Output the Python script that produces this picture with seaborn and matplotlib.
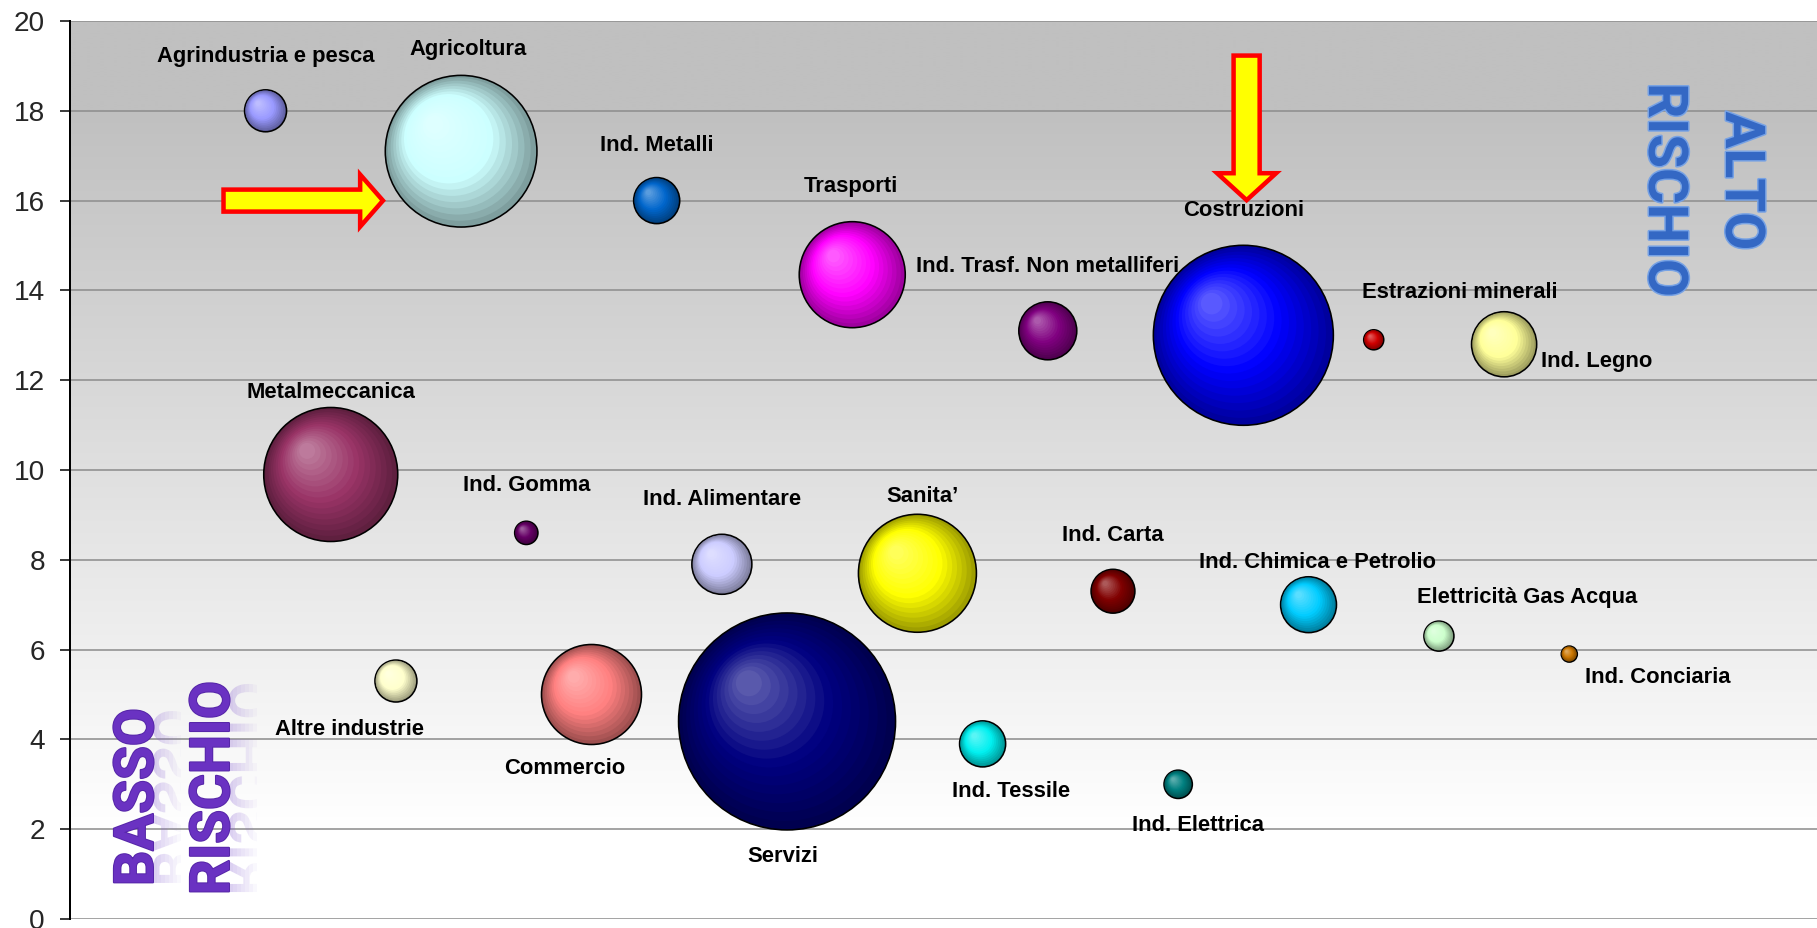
import numpy as np
import pandas as pd
import matplotlib
matplotlib.use("Agg")
import matplotlib.pyplot as plt
import seaborn as sns
import matplotlib.colors as mcolors
import matplotlib.patheffects as pe
import matplotlib.transforms as mtransforms
from matplotlib.path import Path
from matplotlib.markers import MarkerStyle
from matplotlib.patches import FancyArrow, PathPatch, Rectangle
from matplotlib.textpath import TextPath
from matplotlib.font_manager import FontProperties

# --- dati per settore -------------------------------------------------------
settori = [
    "Agrindustria e pesca", "Metalmeccanica", "Altre industrie",
    "Agricoltura", "Ind. Gomma", "Commercio",
    "Ind. Metalli", "Ind. Alimentare", "Servizi",
    "Trasporti", "Sanita\u2019", "Ind. Tessile",
    "Ind. Trasf. Non metalliferi", "Ind. Carta", "Ind. Elettrica",
    "Costruzioni", "Ind. Chimica e Petrolio", "Estrazioni minerali",
    "Elettricit\u00e0 Gas Acqua", "Ind. Legno", "Ind. Conciaria",
]
posizione = [4, 5, 6, 7, 8, 9, 10, 11, 12, 13, 14, 15, 16, 17, 18, 19, 20, 21, 22, 23, 24]
indice_rischio = [18.0, 9.9, 5.3, 17.1, 8.6, 5.0, 16.0, 7.9, 4.4, 14.35, 7.7, 3.9,
                  13.1, 7.3, 3.0, 13.0, 7.0, 12.9, 6.3, 12.8, 5.9]
dimensione = [4.4, 44.9, 4.4, 57.5, 1.35, 25.0, 5.3, 9.0, 117.7, 28.1, 34.8, 5.3,
              8.4, 4.8, 2.0, 81.0, 7.8, 1.0, 2.25, 10.6, 0.64]
y_ticks = [0, 2, 4, 6, 8, 10, 12, 14, 16, 18, 20]

# --- stile -------------------------------------------------------------------
colori = ["#9999FF", "#993366", "#FFFFCC", "#CCFFFF", "#660066", "#FF8080",
          "#0066CC", "#CCCCFF", "#000080", "#FF00FF", "#FFFF00", "#00F0F0",
          "#800080", "#800000", "#008080", "#0000FF", "#00CCFF", "#D00000",
          "#CCFFCC", "#FFFF99", "#CC7700"]

# offset (pt) dell'etichetta rispetto al centro della bolla, allineamento
etichette = {
    "Agrindustria e pesca": (0, 54, "center"),
    "Metalmeccanica": (0, 82, "center"),
    "Altre industrie": (-46, -48, "center"),
    "Agricoltura": (7, 102, "center"),
    "Ind. Gomma": (0, 47, "center"),
    "Commercio": (-27, -74, "center"),
    "Ind. Metalli": (0, 55, "center"),
    "Ind. Alimentare": (0, 65, "center"),
    "Servizi": (-4, -135, "center"),
    "Trasporti": (-1, 88, "center"),
    "Sanita\u2019": (5, 77, "center"),
    "Ind. Tessile": (28, -48, "center"),
    "Ind. Trasf. Non metalliferi": (-132, 64, "left"),
    "Ind. Carta": (0, 56, "center"),
    "Ind. Elettrica": (20, -41, "center"),
    "Costruzioni": (0, 125, "center"),
    "Ind. Chimica e Petrolio": (9, 42, "center"),
    "Estrazioni minerali": (86, 47, "center"),
    "Elettricit\u00e0 Gas Acqua": (88, 39, "center"),
    "Ind. Legno": (37, -17, "left"),
    "Ind. Conciaria": (16, -23, "left"),
}

W, H, DPI = 1817, 928, 72

sns.set_theme(style="white")
plt.rcParams["font.family"] = ["Liberation Sans", "DejaVu Sans"]

fig = plt.figure(figsize=(W / DPI, H / DPI), dpi=DPI)
fig.patch.set_facecolor("white")
ax = fig.add_axes([70 / W, 9 / H, (W - 70) / W, 898 / H])

# sfondo sfumato: grigio in alto, bianco in basso
yy = np.linspace(20, 0, 400)
g = np.clip(192 + 63 * (18 - yy) / 16, 192, 255) / 255.0
bg = np.repeat(np.stack([g, g, g], axis=1)[:, None, :], 2, axis=1)
ax.imshow(bg, extent=(0, 1, 0, 1), transform=ax.transAxes, aspect="auto",
          interpolation="bilinear", zorder=0.2)

df = pd.DataFrame({
    "settore": settori,
    "posizione": posizione,
    "rischio": indice_rischio,
    "dimensione": dimensione,
})
base_rgb = {s: np.array(mcolors.to_rgb(c)) for s, c in zip(settori, colori)}


def sphere_marker(f):
    """Circle of relative radius f, shifted toward the upper-left highlight."""
    off = 0.4 * (1 - f)
    circ = Path.circle((-off, off), f)
    if f >= 0.999:
        return MarkerStyle(circ)
    verts = np.vstack([[[1.0, 1.0], [-1.0, -1.0]], circ.vertices])
    codes = np.concatenate([[Path.MOVETO, Path.MOVETO], circ.codes])
    return MarkerStyle(Path(verts, codes))


def layer_color(rgb, f):
    dark = rgb * 0.62
    light = rgb + (1 - rgb) * 0.35
    if f >= 0.6:
        t = (1 - f) / 0.4
        c = dark + (rgb - dark) * t
    else:
        t = (0.6 - f) / 0.48
        c = rgb + (light - rgb) * t
    return tuple(np.clip(c, 0, 1))


# bolle ombreggiate: strati concentrici dal bordo al riflesso
strati = np.linspace(1.0, 0.12, 16)
for i, f in enumerate(strati):
    pal = {s: layer_color(base_rgb[s], f) for s in settori}
    sns.scatterplot(
        data=df, x="posizione", y="rischio", hue="settore", palette=pal,
        size="dimensione", sizes=(0, 60000), size_norm=(0, 150),
        marker=sphere_marker(f),
        edgecolor="black" if i == 0 else "none",
        linewidth=1.6 if i == 0 else 0,
        legend=False, ax=ax, zorder=3 + i * 0.01,
    )

for row in df.itertuples():
    dx, dy, ha = etichette[row.settore]
    ax.annotate(row.settore, xy=(row.posizione, row.rischio), xytext=(dx, dy),
                textcoords="offset points", ha=ha, va="center",
                fontsize=22, fontweight="bold", color="black", zorder=10)

# frecce evidenziatrici
ax.add_patch(FancyArrow(3.355, 16.0, 2.446, 0, width=0.49, head_width=1.16,
                        head_length=0.35, length_includes_head=True,
                        facecolor="#FFFF00", edgecolor="#FF0000", linewidth=4.5,
                        zorder=11))
ax.add_patch(FancyArrow(19.05, 19.23, 0, -3.22, width=0.40, head_width=0.905,
                        head_length=0.6, length_includes_head=True,
                        facecolor="#FFFF00", edgecolor="#FF0000", linewidth=4.5,
                        zorder=11))

ax.set_xlim(1.0, 27.8)
ax.set_ylim(0, 20)
ax.set_xlabel("")
ax.set_ylabel("")
ax.set_xticks([])
ax.set_yticks(y_ticks)
ax.set_yticklabels([str(v) for v in y_ticks])
ax.tick_params(axis="y", direction="out", length=10, width=1.5, color="black",
               labelsize=28, pad=15, left=True)
ax.set_axisbelow(True)
ax.yaxis.grid(True, color="#8F8F8F", linewidth=1.6)
ax.xaxis.grid(False)
for side in ("top", "right", "bottom"):
    ax.spines[side].set_visible(False)
ax.spines["left"].set_color("black")
ax.spines["left"].set_linewidth(2)
ax.spines["left"].set_zorder(12)

# scritte verticali
titolo_font = ["Roboto", "Liberation Sans", "DejaVu Sans"]
blu = dict(rotation=-90, rotation_mode="anchor", ha="center", va="baseline",
           fontsize=55, fontweight="bold", family=titolo_font, color="#3468C4",
           path_effects=[pe.withStroke(linewidth=3, foreground="#77A2E4")])
fig.text(1726 / W, 1 - 181 / H, "ALTO", **blu)
fig.text(1649 / W, 1 - 190 / H, "RISCHIO", **blu)

viola = dict(rotation=90, rotation_mode="anchor", ha="center", va="baseline",
             fontsize=55, fontweight="bold", family=titolo_font, color="#6A32C2",
             path_effects=[pe.withStroke(linewidth=2, foreground="#5626A8")])
fp = FontProperties(family=titolo_font, weight="bold")
for parola, xb, yc in (("BASSO", 153, 797), ("RISCHIO", 229, 788)):
    fig.text(xb / W, 1 - yc / H, parola, **viola)
    tp = TextPath((0, 0), parola, size=55, prop=fp)
    bb = tp.get_extents()
    tr = (mtransforms.Affine2D().translate(-(bb.x0 + bb.x1) / 2, 0)
          .scale(1, -1).rotate_deg(90).translate(xb, H - yc))
    for k in range(7):
        patch = PathPatch(tp, transform=tr, facecolor="#8A64D2", edgecolor="none",
                          alpha=0.30 * (1 - k / 7), zorder=1)
        fig.add_artist(patch)
        clip = Rectangle((xb + k * 4, 0), 4, H,
                         transform=mtransforms.IdentityTransform())
        patch.set_clip_path(clip)

fig.savefig("out.png", dpi=DPI, facecolor="white")
